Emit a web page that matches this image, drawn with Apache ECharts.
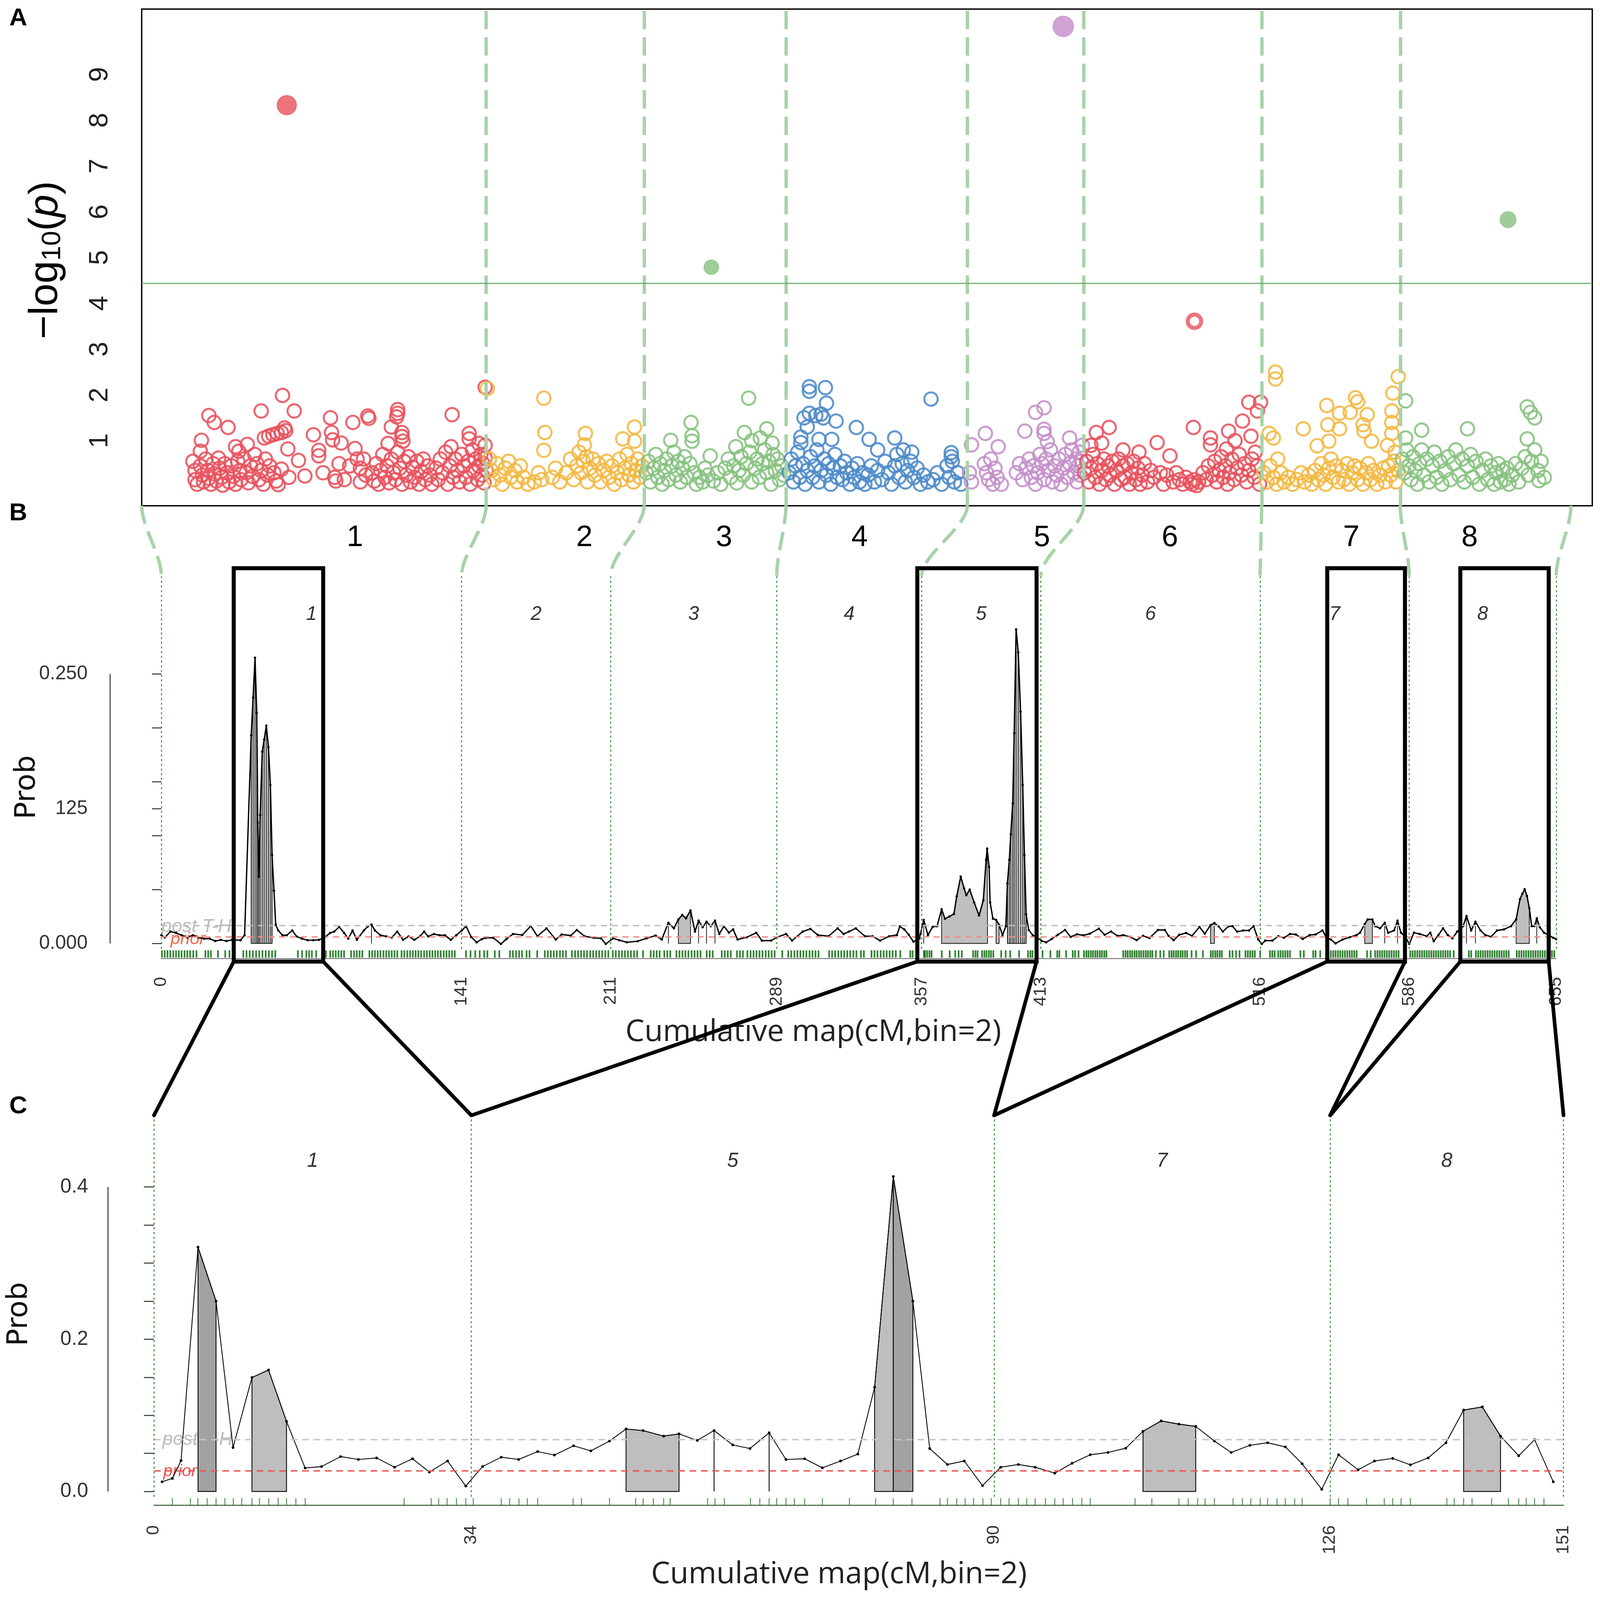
<!DOCTYPE html>
<html><head><meta charset="utf-8">
<script src="https://cdn.jsdelivr.net/npm/echarts@6/dist/echarts.min.js"></script>
<style>html,body{margin:0;padding:0;background:#fff;overflow:hidden}#c{width:100vw;height:100vh}</style>
</head><body><div id="c"></div>
<script>
// ================= DATA =================
// Panel A : Manhattan plot (x = marker position index, y = -log10(p))
const chrNames = ['1','2','3','4','5','6','7','8'];
const manhattanBounds = [0,323,471,604,774,883,1050,1180,1340];
const manhattanLabelPos = [200,415,546,673,844,964,1134,1245];
const manhattanThreshold = 4.44;
const manhattanYTicks = [1,2,3,4,5,6,7,8,9];

const chrPts1 = [[48,0.55],[50,0.35],[50,0.15],[52,0.05],[55,0.45],[57,0.25],[58,0.1],[60,0.6],[62,0.35],[63,0.18],[65,0.05],[67,0.5],[68,0.28],[70,0.12],[72,0.62],[73,0.4],[75,0.2],[76,0.03],[78,0.5],[80,0.3],[82,0.1],[84,0.45],[86,0.22],[88,0.05],[90,0.55],[92,0.35],[93,0.15],[96,0.6],[98,0.3],[100,0.08],[102,0.45],[104,0.22],[106,0.7],[108,0.5],[110,0.15],[112,0.35],[114,0.05],[116,0.6],[118,0.25],[120,0.45],[124,0.3],[126,0.12],[138,0.2],
[63,1.55],[68,1.40],[81,1.29],[56,1.01],[55,0.77],[88,0.87],[99,0.92],[91,0.77],[112,1.65],[132,1.99],[143,1.65],[134,1.28],[115,1.06],[119,1.10],[123,1.13],[127,1.16],[131,1.18],[135,1.22],[137,0.82],[147,0.57],[131,0.38],[153,0.23],[128,0.04],[161,1.13],[166,0.79],[166,0.67],[177,1.50],[178,1.18],[179,1.02],[187,0.95],[181,0.2],[182,0.12],[198,1.40],[200,0.83],[202,0.6],[205,0.4],[212,1.54],[213,1.49],[231,0.94],[234,1.30],[240,1.68],[240,1.60],[239,1.52],[244,1.18],[244,1.09],[245,0.99],[291,1.57],[290,0.87],[307,1.16],[307,1.04],[316,0.94],
[170,0.3],[185,0.5],[190,0.15],[195,0.45],[205,0.1],[208,0.6],[210,0.25],
[216,0.3],[218,0.12],[220,0.5],[222,0.05],[224,0.35],[226,0.7],[228,0.2],[230,0.45],[232,0.08],[234,0.6],[236,0.3],[238,0.15],[240,0.75],[242,0.4],[244,0.05],[246,0.55],[248,0.25],[250,0.65],[252,0.1],[254,0.42],[256,0.2],[258,0.55],[260,0.05],[262,0.33],[264,0.6],[266,0.15],[268,0.45],[270,0.25],[272,0.05],
[276,0.4],[278,0.15],[280,0.6],[282,0.3],[285,0.75],[287,0.05],[289,0.45],[292,0.2],[294,0.6],[296,0.35],[298,0.1],[300,0.7],[302,0.45],[304,0.2],[306,0.55],[308,0.05],[310,0.8],[311,0.35],[313,0.6],[315,0.15],[316,0.45],[318,0.7],[319,0.25],[320,0.5],[321,0.08],[322,0.62],[323,0.35],[322,0.9],[322,2.17]];
const chrPts2 = [[324,2.14],[377,1.93],[378,1.18],[377,0.79],[462,1.3],[416,1.16],[415,0.91],[451,1.04],[462,0.99],[417,0.65],
[326,0.6],[328,0.35],[330,0.15],[333,0.5],[336,0.25],[338,0.05],[341,0.4],[344,0.55],[346,0.2],[350,0.35],[352,0.1],[355,0.45],[358,0.2],[362,0.05],[368,0.1],[372,0.3],[375,0.15],[385,0.2],[388,0.4],[392,0.1],[398,0.3],[402,0.6],[405,0.15],[408,0.45],[410,0.75],[412,0.3],[414,0.55],[418,0.1],[420,0.4],[423,0.6],[425,0.25],[428,0.5],[430,0.1],[433,0.35],[436,0.55],[438,0.2],[441,0.45],[443,0.05],[446,0.3],[448,0.6],[450,0.15],[453,0.4],[455,0.7],[457,0.25],[459,0.5],[461,0.1],[463,0.35],[465,0.6],[467,0.2],[469,0.45]];
const chrPts3 = [[569,1.93],[515,1.40],[516,1.11],[516,0.99],[496,1.01],[565,1.18],[586,1.26],[572,1.0],[580,1.06],[591,0.95],[557,0.87],[533,0.67],[528,0.40],
[473,0.3],[475,0.55],[477,0.1],[480,0.4],[482,0.7],[484,0.2],[486,0.5],[488,0.05],[490,0.35],[492,0.6],[494,0.15],[497,0.45],[499,0.75],[501,0.25],[503,0.55],[505,0.1],[507,0.4],[509,0.65],[511,0.2],[514,0.5],[518,0.3],[520,0.05],[523,0.2],[526,0.1],[531,0.25],[536,0.12],[540,0.3],[543,0.05],[547,0.4],[550,0.6],[552,0.2],[555,0.45],[558,0.08],[560,0.35],[562,0.65],[564,0.25],[567,0.5],[570,0.75],[572,0.1],[575,0.4],[577,0.6],[579,0.2],[582,0.5],[584,0.8],[586,0.3],[588,0.55],[590,0.05],[592,0.7],[594,0.35],[596,0.6],[598,0.15],[600,0.45],[602,0.25]];
const chrPts4 = [[626,2.18],[626,2.08],[641,2.16],[642,1.82],[621,1.5],[626,1.6],[632,1.55],[637,1.58],[639,1.5],[651,1.43],[670,1.29],[624,1.3],[618,1.08],[618,0.96],[635,1.03],[647,1.03],[682,1.03],[706,1.06],[740,1.91],[759,0.74],[759,0.65],[690,0.8],[714,0.8],[722,0.75],
[607,0.3],[609,0.6],[611,0.1],[613,0.45],[615,0.75],[617,0.2],[620,0.5],[622,0.05],[624,0.35],[627,0.65],[629,0.2],[631,0.45],[633,0.8],[635,0.1],[637,0.35],[640,0.6],[642,0.25],[644,0.5],[646,0.05],[648,0.4],[650,0.7],[652,0.2],[655,0.45],[657,0.15],[659,0.55],[661,0.3],[664,0.05],[666,0.4],[668,0.2],[671,0.5],[673,0.1],[676,0.3],[678,0.05],[681,0.25],[684,0.45],[687,0.1],[690,0.35],[694,0.15],[697,0.55],[700,0.3],[703,0.05],[706,0.45],[708,0.7],[710,0.2],[713,0.5],[716,0.1],[718,0.35],[721,0.55],[724,0.2],[727,0.4],[730,0.05],[733,0.25],[737,0.1],[742,0.15],[746,0.3],[750,0.05],[755,0.45],[757,0.2],[760,0.55],[762,0.1],[765,0.3],[768,0.05]];
const chrPts5 = [[846,1.72],[838,1.62],[828,1.21],[791,1.16],[846,1.25],[846,1.16],[870,1.06],[803,0.87],[778,0.91],[849,0.98],
[776,0.3],[778,0.1],[790,0.5],[792,0.3],[794,0.15],[796,0.6],[798,0.05],[800,0.4],[802,0.2],[806,0.05],[820,0.3],[823,0.5],[826,0.15],[829,0.4],[832,0.6],[834,0.2],[836,0.45],[838,0.05],[840,0.3],[842,0.7],[844,0.5],[846,0.15],[848,0.6],[850,0.35],[852,0.8],[854,0.1],[856,0.45],[858,0.25],[860,0.6],[862,0.05],[864,0.4],[866,0.7],[868,0.2],[870,0.5],[872,0.8],[874,0.3],[876,0.6],[877,0.1],[878,0.45],[879,0.75],[880,0.25],[881,0.55],[882,0.9]];
const chrPts6 = [[907,1.29],[895,1.18],[986,1.29],[1038,1.84],[1049,1.84],[1046,1.65],[1032,1.43],[1019,1.21],[1002,1.06],[1002,0.91],[952,0.96],[964,0.67],[1017,0.82],[890,0.9],[900,0.95],[920,0.8],[935,0.75],[1025,1.0],[1040,1.1],[1044,0.75],
[884,0.3],[886,0.55],[888,0.1],[890,0.4],[892,0.7],[894,0.2],[896,0.5],[898,0.05],[900,0.35],[902,0.6],[904,0.15],[906,0.45],[908,0.25],[910,0.55],[912,0.05],[914,0.35],[916,0.6],[918,0.15],[920,0.45],[922,0.2],[924,0.5],[926,0.05],[928,0.3],[930,0.55],[932,0.15],[934,0.4],[936,0.05],[938,0.25],[940,0.5],[943,0.1],[946,0.35],[949,0.2],[955,0.3],[958,0.05],[961,0.25],[967,0.1],[970,0.3],[973,0.15],[976,0.05],[979,0.2],[983,0.1],[985,0.05],[987,0.15],[989,0.02],[991,0.1],[995,0.3],[998,0.15],[1000,0.45],[1004,0.25],[1006,0.55],[1008,0.1],[1010,0.35],[1012,0.65],[1014,0.2],[1016,0.45],[1018,0.05],[1020,0.3],[1022,0.6],[1024,0.15],[1027,0.4],[1029,0.7],[1031,0.25],[1034,0.5],[1036,0.1],[1038,0.35],[1041,0.6],[1043,0.2],[1046,0.45],[1048,0.05]];
const chrPts7 = [[1063,2.50],[1063,2.35],[1178,2.40],[1173,2.04],[1057,1.16],[1061,1.06],[1089,1.26],[1111,1.77],[1123,1.6],[1133,1.62],[1138,1.94],[1140,1.85],[1149,1.57],[1145,1.35],[1146,1.21],[1112,1.35],[1123,1.26],[1102,0.89],[1113,0.99],[1172,1.65],[1172,1.40],[1172,1.16],[1153,0.99],[1065,0.6],[1168,0.9],[1175,0.75],
[1052,0.3],[1055,0.1],[1058,0.45],[1061,0.2],[1064,0.05],[1068,0.3],[1071,0.1],[1075,0.2],[1079,0.05],[1083,0.15],[1087,0.3],[1090,0.1],[1094,0.25],[1097,0.05],[1100,0.35],[1103,0.15],[1106,0.5],[1108,0.25],[1110,0.05],[1113,0.4],[1115,0.6],[1117,0.2],[1120,0.45],[1122,0.1],[1125,0.35],[1127,0.15],[1130,0.5],[1132,0.05],[1135,0.3],[1137,0.45],[1140,0.15],[1142,0.4],[1145,0.05],[1148,0.3],[1150,0.5],[1152,0.15],[1155,0.35],[1158,0.05],[1161,0.25],[1164,0.4],[1166,0.1],[1169,0.45],[1171,0.25],[1174,0.55],[1176,0.1],[1178,0.35]];
const chrPts8 = [[1185,1.87],[1299,1.74],[1302,1.62],[1306,1.5],[1200,1.23],[1243,1.26],[1299,1.04],[1185,1.06],[1310,0.13],
[1182,0.6],[1184,0.3],[1186,0.8],[1188,0.45],[1190,0.15],[1192,0.65],[1194,0.35],[1196,0.05],[1198,0.5],[1200,0.8],[1202,0.25],[1205,0.6],[1207,0.1],[1210,0.45],[1212,0.75],[1214,0.2],[1217,0.55],[1219,0.05],[1222,0.35],[1225,0.65],[1227,0.15],[1230,0.5],[1232,0.8],[1235,0.25],[1238,0.6],[1240,0.1],[1243,0.45],[1246,0.7],[1248,0.2],[1251,0.55],[1254,0.05],[1257,0.35],[1260,0.6],[1262,0.15],[1265,0.45],[1268,0.05],[1270,0.3],[1272,0.5],[1274,0.1],[1276,0.35],[1278,0.15],[1280,0.4],[1282,0.05],[1285,0.25],[1288,0.5],[1291,0.1],[1294,0.4],[1297,0.65],[1300,0.25],[1303,0.55],[1306,0.8],[1309,0.35],[1312,0.55],[1315,0.2]];
const manhattanPts = [chrPts1,chrPts2,chrPts3,chrPts4,chrPts5,chrPts6,chrPts7,chrPts8];
// significant markers [position, -log10 p] and their chromosome index
const sigPts = [[136,8.33],[534,4.79],[864,10.05],[987,3.61],[1281,5.83]];
const sigChr = [0,2,4,5,7];

// Panel B : genome-wide posterior probability
const cumMapB = [0,141,211,289,357,413,516,586,655];
const yTickValsB = [0,0.05,0.1,0.125,0.15,0.2,0.25];
const yLabelValsB = [0,0.125,0.25];
const yLabelTextB = ['0.000','125','0.250'];
const postTH_B = 0.0165;
const priorB = 0.0062;
const probB = [[0,0.0076],[1.6,0.0055],[4.3,0.011],[6.9,0.0098],[9.5,0.0076],[12.2,0.0055],[14.8,0.0076],[17.4,0.0055],[20,0.0044],[22.7,0.0044],[25.3,0.0022],[27.9,0.0033],[30.6,0.0022],[33.2,0.0033],[37.2,0.003],[39.1,0.0076],[42.2,0.193],[43.1,0.228],[44,0.265],[44.8,0.214],[45.3,0.112],[45.8,0.062],[46.4,0.119],[47.4,0.178],[48.3,0.189],[49.3,0.202],[50.3,0.182],[51.2,0.147],[52,0.082],[52.9,0.049],[53.7,0.0175],[54.9,0.012],[56.9,0.0076],[58.9,0.0076],[61.5,0.012],[63.5,0.0065],[66.1,0.0044],[68.7,0.003],[71.4,0.003],[74,0.0033],[76.6,0.0055],[79.3,0.0098],[81.2,0.011],[83.5,0.0153],[85.8,0.0098],[87.8,0.0044],[89.8,0.012],[91.8,0.0033],[95.1,0.012],[97,0.0158],[98.7,0.0175],[100.3,0.012],[102.9,0.0076],[105.6,0.0065],[108.2,0.0055],[110.8,0.011],[113.5,0.0033],[116.1,0.0065],[118.8,0.0033],[121.4,0.0065],[123.4,0.011],[125.3,0.0065],[128,0.0087],[130.6,0.0076],[133.2,0.0076],[135.9,0.0033],[138.5,0.0076],
[141.1,0.012],[143.1,0.016],[145.5,0.006],[148.1,0.001],[150.5,0.004],[152.4,0.0052],[155.9,0.0052],[159.5,-0.0005],[162,0.004],[165.2,0.0088],[169.5,0.0078],[173.5,0.0162],[176.6,0.0067],[180.9,0.014],[185.2,0.0036],[188,0.0083],[192.3,0.0073],[195.1,0.0125],[198.7,0.0067],[203,0.0052],[206.5,0.0047],[208.7,-0.0005],
[212.2,0.0047],[215,0.003],[218.6,0.0011],[223.6,0.002],[227.8,0.0047],[232.1,0.0073],[235,0.0036],[238.1,0.0192],[240.7,0.014],[242.8,0.0223],[244.6,0.0264],[246.4,0.0233],[248.5,0.0306],[250.6,0.011],[252.3,0.0212],[254.2,0.015],[256,0.0202],[258,0.016],[260,0.0212],[262,0.0088],[264.2,0.016],[266.5,0.01],[268.5,0.013],[270.6,0.0036],[274.9,0.0057],[279.4,0.0099],[282,0.0026],[286.3,0.0026],
[289.1,0.0057],[293.4,0.0088],[296.2,0.0026],[301.2,0.011],[304.8,0.0135],[308.3,0.0078],[313.3,0.0067],[317.6,0.014],[320.4,0.0088],[323,0.011],[326.1,0.014],[330.4,0.0067],[334,0.0067],[337.5,0.0026],[341.8,0.0067],[345.4,0.0078],[346.8,0.0158],[348.9,0.013],[351,0.008],[353.2,0.0016],
[356,0.0047],[358,0.0218],[360,0.0077],[362.2,0.0154],[364.3,0.0160],[366.4,0.0317],[368,0.0229],[370.1,0.0251],[372.2,0.0273],[373.5,0.0436],[375.4,0.062],[377,0.051],[378,0.0447],[379.6,0.05],[381.7,0.038],[384,0.026],[386,0.04],[387.3,0.0775],[387.8,0.088],[388.7,0.071],[389.2,0.038],[390.5,0.023],[392,0.0218],[393.4,0.0173],[395,0.0077],[396.6,0.016],[397.3,0.0557],[398.2,0.0775],[398.9,0.1013],[399.8,0.13],[400.5,0.195],[401.4,0.2913],[402.4,0.27],[403.5,0.215],[404.5,0.147],[405.3,0.082],[406.1,0.027],[407.3,0.0125],[409.2,0.0077],[411.3,0.0055],[413.4,0.0023],
[415.5,0.001],[418,0.004],[421,0.008],[424.4,0.0125],[427,0.006],[430,0.0085],[433,0.0075],[436,0.009],[440.2,0.0137],[443,0.008],[446,0.011],[449,0.007],[451.8,0.0077],[455,0.006],[458,0.003],[461,0.007],[464,0.005],[468,0.0125],[471.2,0.0125],[473,0.007],[475.4,0.003],[478,0.008],[481.2,0.0097],[484,0.007],[487.5,0.0153],[490,0.009],[492.7,0.017],[494.5,0.019],[496.4,0.0160],[498.5,0.011],[501.1,0.0158],[503,0.0160],[505.2,0.0109],[508,0.012],[510.7,0.012],[512.9,0.016],[515.1,0.0036],
[516.8,-0.0005],[518.4,0.0026],[521.7,0.0026],[524.5,0.0067],[527.2,0.0052],[530,0.0088],[532.7,0.0083],[536,0.0041],[539.3,0.0078],[542,0.0083],[545.3,0.012],[547,0.0057],[549.2,0.0036],[551.4,0.0],[554.7,0.0036],[558,0.0057],[561.3,0.0078],[562.9,0.0099],[565.1,0.0181],[566.5,0.0223],[568.7,0.0223],[570,0.016],[572.3,0.014],[574.5,0.0192],[576.1,0.0099],[578.9,0.012],[580.5,0.0212],[582.1,0.0099],[584.4,0.0057],[586,-0.0005],
[588.2,0.0099],[590.9,0.0088],[594.2,0.0067],[595.9,0.0099],[597.5,0.0021],[599.7,0.0078],[601.9,0.014],[604.1,0.0078],[606.3,0.0047],[608.5,0.0109],[611.3,0.016],[612.9,0.0254],[615.1,0.012],[617.1,0.0202],[619.5,0.012],[621.7,0.0078],[624.5,0.0062],[627.2,0.012],[630.5,0.013],[633.8,0.016],[636.2,0.0223],[638,0.041],[639.1,0.046],[640.2,0.0503],[641.3,0.044],[642.4,0.0327],[643.5,0.016],[644.8,0.016],[645.9,0.0233],[647.3,0.015],[649.3,0.0099],[651.4,0.0078],[653.6,0.0052],[655,0.004]];
// runs of markers above post threshold (start, end in cM)
const fillB = [[42.2,52.0],[98.7,98.7],[238.1,238.1],[242.8,248.5],[252.3,252.3],[256,256],[260,260],[358,358],[366.4,388.0],[392,393.4],[397.3,406.1],[492.7,494.5],[565.1,568.7],[574.5,574.5],[580.5,580.5],[612.9,612.9],[617.1,617.1],[636.2,642.4],[645.9,645.9]];
const rugB = [0.3,1.6,2.9,4.2,5.6,6.9,8.2,9.5,10.9,12.2,13.5,15.0,16.5,20.7,22.0,23.3,26.6,30.0,32.0,38.5,40,41.5,43,44.5,46,47.5,49,50.5,52,53.5,64.1,66.1,68.1,69.4,70.7,72.7,77.3,79.3,80.6,81.9,83.2,84.5,85.8,89.1,90.5,91.8,93.1,94.4,97.7,99.0,100.3,101.6,102.9,104.3,105.6,106.9,108.2,109.5,110.8,112.8,114.1,115.5,116.8,118.1,119.4,120.7,122.0,123.4,124.7,126.0,127.3,128.6,129.9,131.2,132.6,133.9,135.2,136.5,137.8,
143.1,145.2,147.4,149.5,151.6,153.1,156.6,158.7,163.7,165.1,166.6,168.0,169.4,171.5,172.9,176.5,180.1,181.5,182.9,184.3,185.7,187.2,188.6,190.0,192.8,194.3,195.7,197.1,198.5,199.9,201.4,202.8,204.2,205.6,207.0,208.5,209.9,212.0,213.4,214.9,216.3,217.7,219.1,220.5,222.0,223.4,226.2,229.8,231.2,232.6,234.0,236.2,237.6,239.0,241.9,243.3,244.7,246.1,247.5,249.0,250.4,251.8,253.2,256.1,257.5,258.9,263.2,264.6,266.0,267.4,270.3,271.7,273.1,275.2,276.7,278.1,279.5,280.9,282.3,283.8,285.2,286.6,288.0,291.6,294.4,295.8,297.3,298.7,300.1,301.5,302.9,304.4,305.8,307.2,308.6,313.6,315.0,316.4,317.9,319.3,320.7,322.1,323.5,325.0,326.4,328.5,329.9,333.5,334.9,336.3,337.8,339.2,340.6,342.0,343.4,344.9,347.0,
351.7,352.8,358.1,358.6,359.6,360.7,361.7,366.5,370.2,372.8,374.4,375.9,381.2,382.3,383.3,385.4,386.5,387.5,388.6,389.6,390.7,394.4,396.5,398.6,402.8,407.0,408.1,409.1,413.8,417.5,420.7,421.7,424.9,428.0,429.1,430.7,433.3,434.4,435.4,436.5,437.5,438.6,439.6,440.7,441.7,442.8,443.8,451.7,452.8,453.8,454.9,455.9,457.0,458.0,459.1,460.1,461.2,462.3,463.3,464.4,465.4,467.0,469.1,470.7,473.3,474.4,475.4,476.5,477.5,478.6,479.6,480.7,481.7,483.8,485.9,489.1,492.8,493.8,494.9,495.9,497.0,498.0,501.7,
503.0,504.7,506.3,509.1,510.2,511.3,512.4,513.5,516.0,520.6,521.7,522.8,524.5,525.6,526.7,527.8,528.9,530.0,534.9,536.5,540.9,542.0,544.2,548.1,549.2,550.3,551.4,552.5,553.6,554.7,555.8,556.9,558.0,559.1,560.2,561.3,566.2,567.9,570.0,571.1,572.2,573.3,574.4,575.5,576.6,577.7,578.8,579.9,581.0,586.5,587.6,588.7,589.8,590.9,592.0,593.1,594.2,595.3,596.4,597.5,598.6,599.7,600.8,601.9,603.0,604.1,605.2,606.9,610.2,614.0,615.1,617.3,618.4,619.5,620.6,621.7,622.8,623.9,625.0,626.1,627.2,628.3,629.4,630.5,631.6,632.7,636.5,637.6,638.7,639.8,640.9,642.0,643.1,644.2,645.3,646.4,647.5,648.6,649.7,650.8,651.9,653.0,654.1];
// regions boxed in B and zoomed in C (cM)
const zoomBoxesB = [[34,76],[355,411],[547.5,584],[610,651.5]];

// Panel C : zoomed chromosomes 1,5,7,8
const cumMapC = [0,34,90,126,151];
const chrNamesC = ['1','5','7','8'];
const yTickValsC = [0,0.05,0.1,0.15,0.2,0.25,0.3,0.35,0.4];
const yLabelValsC = [0,0.2,0.4];
const yLabelTextC = ['0.0','0.2','0.4'];
const postTH_C = 0.068;
const priorC = 0.027;
const probC = [[0.87,0.0127],[1.97,0.0171],[2.9,0.0405],[4.72,0.3208],[6.65,0.250],[8.47,0.0577],[10.5,0.1497],[12.27,0.1595],[14.2,0.092],[16.19,0.0308],[17.95,0.0327],[19.99,0.0458],[21.9,0.042],[23.85,0.044],[25.78,0.0318],[27.7,0.043],[29.5,0.0255],[31.45,0.040],[33.4,0.0071],[35.2,0.0327],[37.2,0.045],[39.06,0.042],[41.1,0.0524],[42.9,0.0478],[44.95,0.060],[46.8,0.0533],[48.8,0.0662],[50.57,0.082],[52.4,0.080],[54.6,0.0727],[56.25,0.0756],[58.2,0.067],[60.0,0.080],[62.0,0.0611],[63.85,0.0564],[65.9,0.077],[67.7,0.042],[69.7,0.043],[71.6,0.031],[73.55,0.040],[75.4,0.0491],[77.2,0.1368],[79.2,0.4137],[81.3,0.250],[83.1,0.0564],[85.0,0.0354],[86.8,0.040],[88.76,0.0076],[90.7,0.0318],[92.6,0.0354],[94.4,0.0318],[96.5,0.024],[98.35,0.037],[100.3,0.0482],[102.2,0.0512],[104.1,0.0568],[105.95,0.079],[107.9,0.0927],[109.8,0.0884],[111.6,0.0855],[113.6,0.0662],[115.4,0.0512],[117.4,0.0606],[119.3,0.064],[121.2,0.0585],[123.0,0.0363],[125.1,0.0029],[126.9,0.0482],[129.0,0.0284],[130.75,0.040],[132.7,0.0434],[134.6,0.035],[136.5,0.044],[138.4,0.064],[140.3,0.1069],[142.3,0.111],[144.25,0.0727],[146.2,0.0469],[147.9,0.068],[149.9,0.0127]];
const fillC = [[4.72,6.65],[10.5,14.2],[50.57,56.25],[60,60],[65.9,65.9],[77.2,79.2],[79.2,81.3],[105.95,111.6],[140.3,144.25]];
const rugC = [1.97,3.9,4.7,5.7,6.65,7.6,8.5,9.4,10.5,11.3,12.3,13.3,14.2,15.2,16.2,26.8,29.7,30.5,31.4,32.4,33.4,34.2,37.2,38.1,39.1,40.0,41.1,44.9,45.8,48.8,51.6,52.4,53.5,54.6,55.3,59.3,60.1,61.1,63.9,64.9,65.9,66.7,67.7,68.6,69.7,71.6,74.5,77.3,79.2,81.2,84.2,85.0,86.0,86.9,87.8,88.8,89.7,90.7,91.6,92.6,93.5,94.4,95.5,96.5,97.4,98.4,99.4,100.3,105.1,106.9,109.8,110.8,111.8,112.6,113.6,115.6,116.6,117.5,118.5,119.3,120.3,121.2,122.2,123.0,126.0,126.9,127.9,129.9,131.8,132.7,133.6,134.6,138.5,139.3,140.3,141.2,143.3,145.1,146.2,147.0,147.9,148.9];

// ================= STYLE / LAYOUT (reference pixel units, scaled to the window) =================
const W = window.innerWidth || 4562, H = window.innerHeight || 4774;
const SX = W/4562, SY = H/4774, SS = Math.min(SX, SY);
const X = v => v*SX, Y = v => v*SY, S = v => v*SS;
const chrColors = ['#E8515C','#F4B740','#86C180','#4C8AC8','#C48ECA','#E8515C','#F4B740','#86C180'];
const sigSizes = [58,44,62,40,48];
const fillColorsB = () => '#BFBFBF';
const fillColorsC = i => (i === 0 || i === 6) ? '#A2A2A2' : '#BEBEBE';
const stripedB = [0, 10];   // fill runs drawn with a vertical line at each marker
const stripedC = [];
const FONT = 'Liberation Sans';
const A_Y = [-0.42, 10.43], B_Y = [-0.014, 0.341], C_Y = [-0.018, 0.494];
const boxYB = [-0.0168, 0.348];

const chart = echarts.init(document.getElementById('c'), null, {renderer:'canvas'});

function fillRenderer(pts, colorOf, lw, striped){
  return function(params, api){
    const a = api.value(0), b = api.value(1);
    const inside = pts.filter(p => p[0] >= a - 1e-6 && p[0] <= b + 1e-6);
    const b0 = api.coord([a,0]), b1 = api.coord([b,0]);
    const poly = [b0].concat(inside.map(p => api.coord(p))).concat([b1]);
    const children = [{type:'polygon', shape:{points:poly}, style:{fill:colorOf(params.dataIndex), stroke:'#000', lineWidth:lw}}];
    if (striped.indexOf(params.dataIndex) >= 0) {
      inside.forEach(p => {
        const t = api.coord(p), o = api.coord([p[0],0]);
        children.push({type:'line', shape:{x1:o[0],y1:o[1],x2:t[0],y2:t[1]}, style:{stroke:'#000', lineWidth:lw*0.8}});
      });
    }
    return {type:'group', children};
  };
}
function nearestLabel(vals, texts){
  return v => { let k=0; for(let i=1;i<vals.length;i++){ if(Math.abs(vals[i]-v)<Math.abs(vals[k]-v)) k=i; } return texts[k]; };
}

const series = [];
manhattanPts.forEach((pts,i) => {
  const s = {type:'scatter', xAxisIndex:0, yAxisIndex:0, data:pts, symbol:'circle', symbolSize:S(40),
    itemStyle:{color:'rgba(255,255,255,0)', borderColor:chrColors[i], borderWidth:S(6), opacity:0.88},
    silent:true, animation:false, z:3};
  if (i === 0) {
    s.markLine = {silent:true, symbol:['none','none'], label:{show:false}, animation:false,
      data: manhattanBounds.slice(1,8).map(v => ({xAxis:v, lineStyle:{color:'#A9D2A9', width:S(10), type:[S(55),S(24)], opacity:1}}))
        .concat([{yAxis:manhattanThreshold, lineStyle:{color:'#5FA55F', width:S(3), type:'solid'}}])};
  }
  series.push(s);
});
series.push({type:'scatter', xAxisIndex:0, yAxisIndex:0, silent:true, animation:false, z:4,
  data: sigPts.map((p,k) => {
    const c = chrColors[sigChr[k]];
    const ring = sigChr[k] === 5;
    return {value:p, symbolSize:S(sigSizes[k]), itemStyle: ring ? {color:'#fff', borderColor:c, borderWidth:S(12)} : {color:c, borderColor:c, borderWidth:S(2)}};
  })});

// ---- panel B ----
const dotStyle = {color:'#2E8B2E', width:S(3), type:[S(6),S(8)]};
const dashB = [S(18),S(14)];
series.push({type:'scatter', xAxisIndex:1, yAxisIndex:1, data: rugB.map(x => [x,-0.0098]), symbol:'rect', symbolSize:[S(5),S(22)],
  itemStyle:{color:'#006400'}, silent:true, animation:false, z:2,
  markLine:{silent:true, symbol:['none','none'], label:{show:false}, animation:false, data:[
    [{coord:[0,postTH_B], lineStyle:{color:'#BDBDBD', width:S(4), type:dashB}},{coord:[655,postTH_B], lineStyle:{color:'#BDBDBD', width:S(4), type:dashB}}],
    [{coord:[0,priorB], lineStyle:{color:'#F08A8A', width:S(4), type:dashB}},{coord:[655,priorB], lineStyle:{color:'#F08A8A', width:S(4), type:dashB}}]
  ].concat(cumMapB.map(v => [{coord:[v,-0.005], lineStyle:dotStyle},{coord:[v,B_Y[1]], lineStyle:dotStyle}]))}});
series.push({type:'custom', xAxisIndex:1, yAxisIndex:1, data: fillB, renderItem: fillRenderer(probB, fillColorsB, S(2), stripedB), silent:true, animation:false, z:3, clip:false});
series.push({type:'line', xAxisIndex:1, yAxisIndex:1, data: probB, symbol:'circle', symbolSize:S(7), showSymbol:true, showAllSymbol:true,
  lineStyle:{color:'#000', width:S(4)}, itemStyle:{color:'#000'}, silent:true, animation:false, z:4});

// ---- panel C ----
const dashC = [S(20),S(14)];
series.push({type:'scatter', xAxisIndex:2, yAxisIndex:2, data: rugC.map(x => [x,-0.0134]), symbol:'rect', symbolSize:[S(3),S(21)],
  itemStyle:{color:'#2D7A2D'}, silent:true, animation:false, z:2,
  markLine:{silent:true, symbol:['none','none'], label:{show:false}, animation:false, data:[
    [{coord:[0,postTH_C], lineStyle:{color:'#C4C4C4', width:S(4), type:dashC}},{coord:[151,postTH_C], lineStyle:{color:'#C4C4C4', width:S(4), type:dashC}}],
    [{coord:[0,priorC], lineStyle:{color:'#E8554F', width:S(4), type:dashC}},{coord:[151,priorC], lineStyle:{color:'#E8554F', width:S(4), type:dashC}}]
  ].concat(cumMapC.map(v => [{coord:[v,-0.007], lineStyle:dotStyle},{coord:[v,C_Y[1]], lineStyle:dotStyle}]))}});
series.push({type:'custom', xAxisIndex:2, yAxisIndex:2, data: fillC, renderItem: fillRenderer(probC, fillColorsC, S(2.5), stripedC), silent:true, animation:false, z:3, clip:false});
series.push({type:'line', xAxisIndex:2, yAxisIndex:2, data: probC, symbol:'circle', symbolSize:S(8), showSymbol:true, showAllSymbol:true,
  lineStyle:{color:'#000', width:S(2.5)}, itemStyle:{color:'#000'}, silent:true, animation:false, z:4});

const noAxisBits = {axisLine:{show:false}, axisTick:{show:false}, splitLine:{show:false}};
const option = {
  animation:false, backgroundColor:'#fff',
  grid:[
    {left:X(404), top:Y(27), width:X(4136), height:Y(1482), show:true, borderColor:'#000', borderWidth:S(4), backgroundColor:'transparent', containLabel:false, outerBoundsMode:'none'},
    {left:X(460), top:Y(1718), width:X(3977), height:Y(1142), show:false, containLabel:false, outerBoundsMode:'none'},
    {left:X(439), top:Y(3328), width:X(4019), height:Y(1163), show:false, containLabel:false, outerBoundsMode:'none'}
  ],
  xAxis:[
    Object.assign({type:'value', gridIndex:0, min:0, max:1360, axisLabel:{show:false}}, noAxisBits),
    {type:'value', gridIndex:1, min:0, max:655, splitLine:{show:false}, axisTick:{show:false},
      axisLine:{show:true, onZero:false, lineStyle:{color:'#333', width:S(2)}},
      axisLabel:{customValues:cumMapB, rotate:90, margin:S(55), fontSize:S(52), fontFamily:FONT, color:'#333', showMinLabel:true, showMaxLabel:true}},
    {type:'value', gridIndex:2, min:0, max:151, splitLine:{show:false}, axisTick:{show:false},
      axisLine:{show:true, onZero:false, lineStyle:{color:'#2F5F2F', width:S(3)}},
      axisLabel:{customValues:cumMapC, rotate:90, margin:S(60), fontSize:S(52), fontFamily:FONT, color:'#333', showMinLabel:true, showMaxLabel:true}}
  ],
  yAxis:[
    Object.assign({type:'value', gridIndex:0, min:A_Y[0], max:A_Y[1],
      axisLabel:{customValues:manhattanYTicks, rotate:90, margin:S(84), fontSize:S(80), fontFamily:FONT, color:'#222'}}, noAxisBits),
    {type:'value', gridIndex:1, min:B_Y[0], max:B_Y[1], offset:X(146), splitLine:{show:false}, axisLine:{show:false},
      axisTick:{show:true, customValues:yTickValsB, length:S(28), lineStyle:{color:'#333', width:S(3)}},
      axisLabel:{customValues:yLabelValsB, formatter:nearestLabel(yLabelValsB,yLabelTextB), margin:S(67), fontSize:S(58), fontFamily:FONT, color:'#333'}},
    {type:'value', gridIndex:2, min:C_Y[0], max:C_Y[1], offset:X(131), splitLine:{show:false}, axisLine:{show:false},
      axisTick:{show:true, customValues:yTickValsC, length:S(30), lineStyle:{color:'#333', width:S(3)}},
      axisLabel:{customValues:yLabelValsC, formatter:nearestLabel(yLabelValsC,yLabelTextC), margin:S(59), fontSize:S(60), fontFamily:FONT, color:'#333'}}
  ],
  series
};
chart.setOption(option);

// ================= decorations (positions from the axes) =================
const pA = v => chart.convertToPixel({xAxisIndex:0, yAxisIndex:0}, v);
const pB = v => chart.convertToPixel({xAxisIndex:1, yAxisIndex:1}, v);
const pC = v => chart.convertToPixel({xAxisIndex:2, yAxisIndex:2}, v);
const g = [];
function txt(x,y,text,opts){
  const st = Object.assign({text, align:'center', verticalAlign:'middle', fontFamily:FONT, fill:'#000'}, opts.style);
  if (st.fontSize) st.fontSize = S(st.fontSize);
  g.push({type:'text', x, y, silent:true, z:opts.z||50, rotation:opts.rotation||0, style:st});
}

// A -> B dashed connectors
for (let i=0;i<manhattanBounds.length;i++){
  const s = pA([manhattanBounds[i], A_Y[0]]), e = pB([cumMapB[i], B_Y[1]]);
  const dy = e[1]-s[1];
  g.push({type:'bezierCurve', silent:true, z:20, shape:{x1:s[0],y1:s[1],x2:e[0],y2:e[1],cpx1:s[0],cpy1:s[1]+dy*0.3,cpx2:e[0],cpy2:e[1]-dy*0.3},
    style:{stroke:'#A9D2A9', lineWidth:S(10), lineDash:[S(55),S(24)], fill:null}});
}
// chromosome numbers between A and B
chrNames.forEach((n,i) => { txt(pA([manhattanLabelPos[i],0])[0], Y(1605), n, {style:{fontSize:88}}); });
// B chromosome labels (italic)
chrNames.forEach((n,i) => { const p = pB([(cumMapB[i]+cumMapB[i+1])/2, 0.305]); txt(p[0], p[1], n, {style:{fontSize:58, fontStyle:'italic', fill:'#333'}}); });
// C chromosome labels
chrNamesC.forEach((n,i) => { const p = pC([(cumMapC[i]+cumMapC[i+1])/2, 0.434]); txt(p[0], p[1], n, {style:{fontSize:60, fontStyle:'italic', fill:'#333'}}); });
// post / prior labels
(function(){
  let p = pB([0, 0.0153]); txt(p[0], p[1], 'post T-H', {z:1, style:{align:'left', fontSize:56, fontStyle:'italic', fill:'#BBBBBB'}});
  p = pB([4.3, 0.0040]); txt(p[0], p[1], 'prior', {z:1, style:{align:'left', fontSize:52, fontStyle:'italic', fill:'#F06A4A'}});
  p = pC([0.9, 0.068]); txt(p[0], p[1], 'post T-H', {z:1, style:{align:'left', fontSize:56, fontStyle:'italic', fill:'#BBBBBB'}});
  p = pC([1.0, 0.026]); txt(p[0], p[1], 'prior', {z:1, style:{align:'left', fontSize:50, fontStyle:'italic', fill:'#E8554F'}});
})();
// y axis lines for B and C (span only the labelled range)
(function(){
  const b0 = pB([0,0]), b1 = pB([0,0.25]);
  g.push({type:'line', silent:true, z:10, shape:{x1:b0[0]-X(146),y1:b0[1],x2:b1[0]-X(146),y2:b1[1]}, style:{stroke:'#333', lineWidth:S(3)}});
  const c0 = pC([0,0]), c1 = pC([0,0.4]);
  g.push({type:'line', silent:true, z:10, shape:{x1:c0[0]-X(131),y1:c0[1],x2:c1[0]-X(131),y2:c1[1]}, style:{stroke:'#333', lineWidth:S(3)}});
})();
// boxes in B and zoom lines to C
zoomBoxesB.forEach((bx,k) => {
  const tl = pB([bx[0], boxYB[1]]), br = pB([bx[1], boxYB[0]]);
  g.push({type:'rect', silent:true, z:100, shape:{x:tl[0], y:tl[1], width:br[0]-tl[0], height:br[1]-tl[1]},
    style:{fill:null, stroke:'#000', lineWidth:S(12)}});
  const c0 = pC([cumMapC[k], C_Y[1]]), c1 = pC([cumMapC[k+1], C_Y[1]]);
  g.push({type:'line', silent:true, z:100, shape:{x1:tl[0], y1:br[1], x2:c0[0], y2:c0[1]}, style:{stroke:'#000', lineWidth:S(11), lineCap:'round'}});
  g.push({type:'line', silent:true, z:100, shape:{x1:br[0], y1:br[1], x2:c1[0], y2:c1[1]}, style:{stroke:'#000', lineWidth:S(11), lineCap:'round'}});
});
// titles and axis names
txt(X(2319), Y(3080), 'Cumulative map(cM,bin=2)', {z:5, style:{fontSize:90, fontFamily:'Open Sans', fill:'#222'}});
txt(X(2392), Y(4698), 'Cumulative map(cM,bin=2)', {z:5, style:{fontSize:90, fontFamily:'Open Sans', fill:'#222'}});
txt(X(78), Y(2349), 'Prob', {rotation:Math.PI/2, style:{fontSize:86, fontFamily:'DejaVu Sans', fill:'#111'}});
txt(X(55), Y(3921), 'Prob', {rotation:Math.PI/2, style:{fontSize:86, fontFamily:'DejaVu Sans', fill:'#111'}});
g.push({type:'text', x:X(130), y:Y(776), rotation:Math.PI/2, silent:true, z:50,
  style:{text:'{a|\u2212log}{b|10}{a|(}{c|p}{a|)}', align:'center', verticalAlign:'middle', fill:'#000',
    rich:{a:{fontSize:S(122), fontFamily:FONT}, b:{fontSize:S(80), fontFamily:FONT, verticalAlign:'bottom'}, c:{fontSize:S(122), fontFamily:FONT, fontStyle:'italic'}}}});
txt(X(52), Y(55), 'A', {style:{fontSize:74, fontWeight:'bold'}});
txt(X(52), Y(1532), 'B', {style:{fontSize:74, fontWeight:'bold'}});
txt(X(52), Y(3301), 'C', {style:{fontSize:74, fontWeight:'bold'}});

chart.setOption({graphic:{elements:g}});
</script></body></html>
